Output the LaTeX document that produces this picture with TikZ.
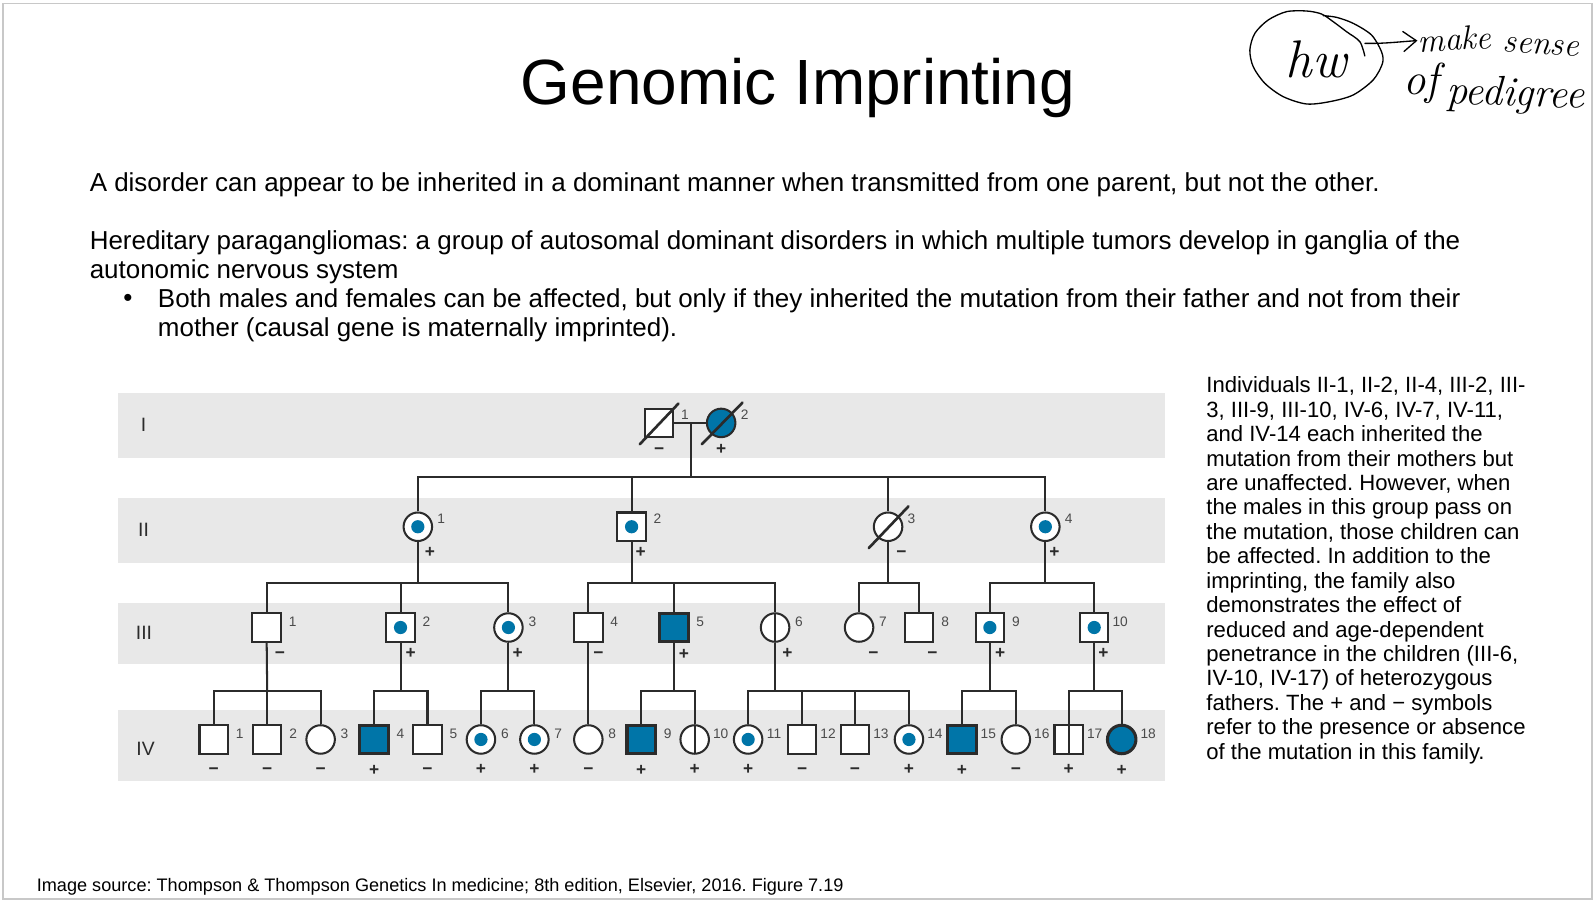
\documentclass[tikz,border=0pt]{standalone}
\usepackage{xcolor}
\usepackage{fontspec}
\setsansfont{Liberation Sans}
\usepackage{tikz}
\usetikzlibrary{arrows.meta}
\usetikzlibrary{positioning}
\definecolor{imprint}{HTML}{0075A8}
\definecolor{bandgray}{HTML}{E8E8E8}
\definecolor{inkline}{HTML}{2B2B2B}
\definecolor{frameline}{HTML}{C8C8C8}

\begin{document}
\frenchspacing
\begin{tikzpicture}[
                x=1pt, y=-1pt,
                band/.style = {fill=bandgray, draw=none},
                title/.style = {font=\sffamily\fontsize{62.8}{70}\selectfont, inner sep=0pt},
                body/.style = {font=\sffamily\fontsize{25.5}{28.6}\selectfont, align=left, anchor=north west, inner sep=0pt},
                side/.style = {font=\sffamily\fontsize{21.7}{24}\selectfont, align=left, anchor=north west, inner sep=0pt},
                foot/.style = {font=\sffamily\fontsize{17.8}{20}\selectfont, anchor=west, inner sep=0pt},
                ink/.style = {font=\itshape\fontsize{#1}{#1}\selectfont, inner sep=0pt},
                gen/.style = {font=\sffamily\fontsize{19}{19}\selectfont, text=inkline, inner sep=0pt},
                male/.style = {draw=inkline, fill=white, line width=2pt, rectangle, inner sep=0pt, minimum size=28pt},
                female/.style = {draw=inkline, fill=white, line width=2pt, circle, inner sep=0pt, minimum size=28pt},
                aff/.style = {fill=imprint, line width=3pt},
                carrier/.style = {path picture={\fill[imprint] (path picture bounding box.center) circle (6.5pt);}},
                split/.style = {path picture={\draw[inkline, line width=2pt] (path picture bounding box.north) -- (path picture bounding box.south);}},
                numlab/.style = {font=\sffamily\fontsize{13.5}{13.5}\selectfont, text=inkline!85, anchor=center, inner sep=0pt},
                signlab/.style = {font=\sffamily\bfseries\fontsize{17}{17}\selectfont, text=inkline, anchor=center, inner sep=0pt, text height=8pt, text depth=0pt},
                num/.style = {label={[numlab, xshift=10.5pt, yshift=8pt]east:#1}},
                numd/.style = {label={[numlab, xshift=10.5pt, yshift=6pt]east:#1}},
                numf/.style = {label={[numlab, xshift=8pt, yshift=8pt]east:#1}},
                numdf/.style = {label={[numlab, xshift=8.5pt, yshift=6pt]east:#1}},
                pl/.style = {label={[signlab, xshift=#1, yshift=-11.6pt]south:+}},
                mn/.style = {label={[signlab, xshift=#1, yshift=-11.6pt]south:−}},
                pld/.style = {label={[signlab, yshift=-15.6pt]south:+}},
                mnd/.style = {label={[signlab, yshift=-15.6pt]south:−}},
                arr/.style = {draw=inkline, line width=2pt},
                slash/.style = {draw=inkline, line width=2.6pt, line cap=round},
                stroke/.style = {draw=black, line width=1.3pt, line cap=round, line join=round},
            ]
            \useasboundingbox (0,0) rectangle (1568,886);
            \draw[frameline, line width=1.6pt] (3,3.6) rectangle (1564,883);

            % slide text
            \node (head) [title] at (784,86) {Genomic Imprinting};
            \node (lead) [body] at (88,169) {A disorder can appear to be inherited in a dominant manner when transmitted from one parent, but not the other.};
            \node (para) [body] at (88,226) {Hereditary paragangliomas: a group of autosomal dominant disorders in which multiple tumors develop in ganglia of the\\autonomic nervous system};
            \node (bull) [body] at (121,289) {•};
            \node (item) [body] at (155,283) {Both males and females can be affected, but only if they inherited the mutation from their father and not from their\\mother (causal gene is maternally imprinted).};
            \node (note) [side] at (1185,370) {Individuals II-1, II-2, II-4, III-2, III-\\3, III-9, III-10, IV-6, IV-7, IV-11,\\and IV-14 each inherited the\\mutation from their mothers but\\are unaffected. However, when\\the males in this group pass on\\the mutation, those children can\\be affected. In addition to the\\imprinting, the family also\\demonstrates the effect of\\reduced and age-dependent\\penetrance in the children (III-6,\\IV-10, IV-17) of heterozygous\\fathers. The + and − symbols\\refer to the presence or absence\\of the mutation in this family.};
            \node (source) [foot] at (36,871) {Image source: Thompson \& Thompson Genetics In medicine; 8th edition, Elsevier, 2016. Figure 7.19};

            % generation bands
            \fill[band] (116,386) rectangle (1145,450);
            \fill[band] (116,489) rectangle (1145,553);
            \fill[band] (116,592) rectangle (1145,652);
            \fill[band] (116,698) rectangle (1145,767);
            \node (gI) [gen] at (141,417) {I};
            \node (gII) [gen] at (141,521) {II};
            \node (gIII) [gen] at (141.5,622) {III};
            \node (gIV) [gen] at (143,735.5) {IV};

            % generation I
            \node (I1) [male, num=1, mn=0pt] at (647.5,415.5){};
            \node (I2) [female, aff, line width=2pt, numf=2, pl=0pt] at (708.5,415.5){};

            % generation II
            \node (II1) [female, carrier, numf=1, pl=12pt] at (410.5,517.5){};
            \node (II2) [male, carrier, num=2, pl=9pt] at (620.5,517.5){};
            \node (II3) [female, numf=3, mn=13pt] at (872.5,517.5){};
            \node (II4) [female, carrier, numf=4, pl=9pt] at (1027,517.5){};

            % generation III
            \node (III1) [male, numd=1, mn=13pt] at (262,616.5){};
            \node (III2) [male, carrier, numd=2, pl=10pt] at (393.5,616.5){};
            \node (III3) [female, carrier, numdf=3, pl=9pt] at (499.5,616.5){};
            \node (III4) [male, numd=4, mn=10pt] at (578,616.5){};
            \node (III5) [male, aff, numd=5, pl=10pt] at (662,616.5){};
            \node (III6) [female, split, numdf=6, pl=12pt] at (761.5,616.5){};
            \node (III7) [female, numdf=7, mn=14pt] at (844,616.5){};
            \node (III8) [male, numd=8, mn=13pt] at (903,616.5){};
            \node (III9) [male, carrier, numd=9, pl=10pt] at (972.5,616.5){};
            \node (III10) [male, carrier, numd=10, pl=9pt] at (1075,616.5){};

            % generation IV
            \node (IV1) [male, numd=1, mnd] at (210,726.5){};
            \node (IV2) [male, numd=2, mnd] at (262.5,726.5){};
            \node (IV3) [female, numdf=3, mnd] at (315,726.5){};
            \node (IV4) [male, aff, numd=4, pld] at (367.5,726.5){};
            \node (IV5) [male, numd=5, mnd] at (420,726.5){};
            \node (IV6) [female, carrier, numdf=6, pld] at (472.5,726.5){};
            \node (IV7) [female, carrier, numdf=7, pld] at (525,726.5){};
            \node (IV8) [female, numdf=8, mnd] at (578,726.5){};
            \node (IV9) [male, aff, numd=9, pld] at (630,726.5){};
            \node (IV10) [female, split, numd=10, pld] at (682.5,726.5){};
            \node (IV11) [female, carrier, numd=11, pld] at (735,726.5){};
            \node (IV12) [male, numd=12, mnd] at (788,726.5){};
            \node (IV13) [male, numd=13, mnd] at (840,726.5){};
            \node (IV14) [female, carrier, numd=14, pld] at (893,726.5){};
            \node (IV15) [male, aff, numd=15, pld] at (945,726.5){};
            \node (IV16) [female, numd=16, mnd] at (998,726.5){};
            \node (IV17) [male, split, numd=17, pld] at (1050,726.5){};
            \node (IV18) [female, aff, numd=18, pld] at (1102,726.5){};

            % mating and sibship lines
            \coordinate (mate) at (678.5,415.5);
            \coordinate (sibII) at (678.5,468.5);
            \coordinate (sibIIIa) at (410.5,572.5);
            \coordinate (sibIIIb) at (620.5,572.5);
            \coordinate (sibIIIc) at (872.5,572.5);
            \coordinate (sibIIId) at (1027,572.5);
            \coordinate (sibIVa) at (262.5,678.5);
            \coordinate (sibIVb) at (393.5,678.5);
            \coordinate (sibIVc) at (499.5,678.5);
            \coordinate (sibIVd) at (662,678.5);
            \coordinate (sibIVe) at (761.5,678.5);
            \coordinate (sibIVf) at (972.5,678.5);
            \coordinate (sibIVg) at (1075,678.5);

            \path[arr] (I1) -- (I2);
            \path[arr] (mate) -- (sibII);
            \path[arr] (II1.north) |- (sibII) -| (II4.north);
            \path[arr] (II2.north) |- (sibII);
            \path[arr] (II3.north) |- (sibII);

            \path[arr] (II1.south) -- (sibIIIa);
            \path[arr] (III1.north) |- (sibIIIa) -| (III3.north);
            \path[arr] (III2.north) |- (sibIIIa);
            \path[arr] (II2.south) -- (sibIIIb);
            \path[arr] (III4.north) |- (sibIIIb) -| (III6.north);
            \path[arr] (III5.north) |- (sibIIIb);
            \path[arr] (II3.south) -- (sibIIIc);
            \path[arr] (III7.north) |- (sibIIIc) -| (III8.north);
            \path[arr] (II4.south) -- (sibIIId);
            \path[arr] (III9.north) |- (sibIIId) -| (III10.north);

            \path[arr] (III1.south) -- (sibIVa);
            \path[arr] (IV1.north) |- (sibIVa) -| (IV3.north);
            \path[arr] (IV2.north) -- (sibIVa);
            \path[arr] (III2.south) -- (sibIVb);
            \path[arr] (IV4.north) |- (sibIVb) -| (IV5.north);
            \path[arr] (III3.south) -- (sibIVc);
            \path[arr] (IV6.north) |- (sibIVc) -| (IV7.north);
            \path[arr] (III4.south) -- (IV8.north);
            \path[arr] (III5.south) -- (sibIVd);
            \path[arr] (IV9.north) |- (sibIVd) -| (IV10.north);
            \path[arr] (III6.south) -- (sibIVe);
            \path[arr] (IV11.north) |- (sibIVe) -| (IV14.north);
            \path[arr] (IV12.north) |- (sibIVe);
            \path[arr] (IV13.north) |- (sibIVe);
            \path[arr] (III9.south) -- (sibIVf);
            \path[arr] (IV15.north) |- (sibIVf) -| (IV16.north);
            \path[arr] (III10.south) -- (sibIVg);
            \path[arr] (IV17.north) |- (sibIVg) -| (IV18.north);

            % deceased
            \path[slash] ([shift={(-19,21)}]I1.center) -- ([shift={(19,-19)}]I1.center);
            \path[slash] ([shift={(-19,21)}]I2.center) -- ([shift={(21,-20)}]I2.center);
            \path[slash] ([shift={(-19,21)}]II3.center) -- ([shift={(20,-20)}]II3.center);

            % handwritten note
            \begin{scope}[shift={(1218.1pt,0pt)}, x=.3274pt, y=-.3274pt]
                \path[stroke] plot[smooth] coordinates {(375,168) (360,125) (320,95) (280,65) (245,42) (200,33) (140,35) (85,60) (45,100) (30,150) (40,200) (75,250) (130,290) (200,312) (270,305) (340,285) (400,240) (428,190) (425,155) (395,105) (340,70) (290,52) (250,47)};
            \end{scope}
            \node (hw) [ink=52] at (1293,58) {hw};
            \node (make) [ink=33, rotate=3] at (1429,38) {make};
            \node (sense) [ink=33, rotate=-4] at (1514,46) {sense};
            \node (of) [ink=44] at (1396,82) {of};
            \node (pedigree) [ink=41, rotate=-2] at (1489,94) {pedigree};
            \coordinate (hwtail) at (1341,42.6);
            \draw[stroke, -{Straight Barb[length=13pt, width=20pt]}] (hwtail) .. controls (1360,43) and (1375,41) .. (make.west);
        \end{tikzpicture}
\end{document}
